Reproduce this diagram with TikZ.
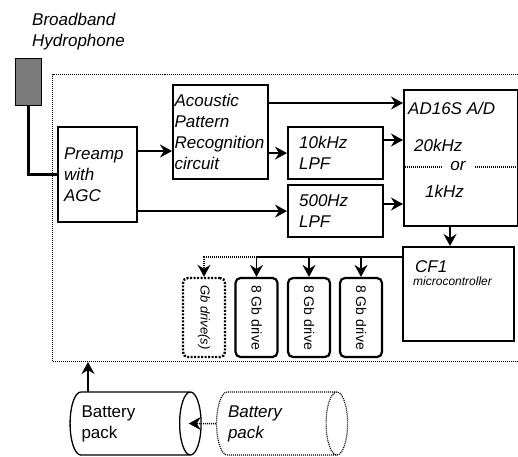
\documentclass[tikz,border=0pt]{standalone}
\usepackage{fontspec}
\usepackage{graphicx}
\setmainfont{Liberation Sans}
\usetikzlibrary{positioning, calc, arrows.meta, shapes.geometric}

\newcommand{\lbl}{\fontsize{17}{21}\selectfont\itshape}
\newcommand{\drv}{\fontsize{14}{17}\selectfont}
\newcommand{\sml}{\fontsize{12}{14}\selectfont\itshape}

\begin{document}
\begin{tikzpicture}[x=1pt, y=-1pt,
    blk/.style={draw, line width=2.2pt, anchor=north west, align=left, inner ysep=0pt, font=\lbl},
    conn/.style={line width=1.6pt, -{Stealth[length=12pt, width=13pt, inset=4pt]}},
    drive/.style={draw, line width=2.2pt, rounded corners=5pt, minimum width=42pt, minimum height=79pt, inner sep=0pt, font=\drv},
    pack/.style={cylinder, draw, line width=1.3pt, aspect=0.5, minimum width=63pt, minimum height=131pt, align=left, text width=92pt, font=\fontsize{17}{21}\selectfont},
    dots/.style={line width=1pt, dash pattern=on 1pt off 1pt},
    txt/.style={anchor=base west, inner sep=0pt, font=\lbl}
]
    \useasboundingbox (0,0) rectangle (518,456);

    % Enclosure
    \node[draw, dots, anchor=north west, minimum width=490pt, minimum height=287pt] (case) at (52,74) {};

    % Hydrophone and its cable
    \node[anchor=north west, align=left, inner sep=0pt, font=\lbl] (title) at (32,13) {Broadband\\Hydrophone};
    \node[draw, fill=black!52, line width=0.8pt, anchor=north west, minimum width=26pt, minimum height=47pt, inner sep=0pt] (hyd) at (15,58) {};

    % Signal chain
    \node[blk, minimum height=95pt, text width=67pt, inner xsep=6pt] (pre) at (57,126) {Preamp\\with\\AGC};
    \node[blk, minimum height=94pt, text width=92pt, inner xsep=1.5pt] (apr) at (172,84) {Acoustic\\Pattern\\Recognition\\circuit};
    \node[blk, minimum height=52pt, text width=73pt, inner xsep=11pt] (lpa) at (287,126) {10kHz\\LPF};
    \node[blk, minimum height=52pt, text width=73pt, inner xsep=11pt] (lpb) at (287,184) {500Hz\\LPF};
    \node[blk, minimum width=114pt, minimum height=136pt, inner sep=0pt] (ad) at (403,89) {};
    \node[blk, minimum width=111pt, minimum height=94pt, inner sep=0pt] (cf) at (402,246) {};

    % A/D labels
    \node[txt] (adname) at (408,114) {AD16S A/D};
    \node[txt] (adhi) at (414,151) {20kHz};
    \node[txt, anchor=base, inner xsep=9pt] (ador) at (458,170) {or};
    \node[txt] (adlo) at (425,197) {1kHz};
    \node[txt] (cfname) at (415,272) {CF1};
    \node[txt, font=\sml] (cfsub) at (413,285) {microcontroller};

    % Drives
    \node[drive, dash pattern=on 2pt off 1.5pt, line width=2.4pt, font=\fontsize{13}{15}\selectfont\itshape] (d0) at (204,317.5) {\rotatebox{-90}{Gb drive(s)}};
    \node[drive] (d1) at (256.5,317.5) {\rotatebox{-90}{8 Gb drive}};
    \node[drive] (d2) at (309,317.5) {\rotatebox{-90}{8 Gb drive}};
    \node[drive] (d3) at (361,317.5) {\rotatebox{-90}{8 Gb drive}};

    % Batteries
    \node[pack] (bat) at (127.5,423.5) {Battery\\pack};
    \node[pack, dots, line width=1.2pt, font=\lbl] (spare) at (274,423.5) {Battery\\pack};

    % Connections
    \draw[line width=2.8pt] (hyd.south) |- (pre.west);
    \draw[conn] (pre.east |- 0,151) -- (apr.west |- 0,151);
    \draw[conn] (pre.east |- lpb.west) -- (lpb.west);
    \draw[conn] (apr.east |- 0,103) -- (ad.west |- 0,103);
    \draw[conn] (apr.east |- lpa.west) -- (lpa.west);
    \draw[conn] (lpa.east |- 0,140) -- (ad.west |- 0,140);
    \draw[conn] (lpb.east |- 0,204) -- (ad.west |- 0,204);
    \draw[dots, line width=1.2pt] (ad.west |- 0,167) -- (ador.west |- 0,167);
    \draw[dots, line width=1.2pt] (ador.east |- 0,167) -- (ad.east |- 0,167);
    \draw[conn] (450,225) -- (450,246);

    \coordinate (bus) at (cf.west |- 0,257);
    \draw[conn] (bus) -| (d1.north);
    \draw[conn] (bus) -| (d2.north);
    \draw[conn] (bus) -| (d3.north);
    \draw[conn, dots, line width=1.5pt] (d1.north |- bus) -| (d0.north);

    \coordinate (feed) at (88,392);
    \draw[conn] (feed) -- (feed |- case.south);
    \draw[conn, dots, line width=1.5pt] (spare.west) -- ($(bat.east)+(-13,0)$);
\end{tikzpicture}
\end{document}
